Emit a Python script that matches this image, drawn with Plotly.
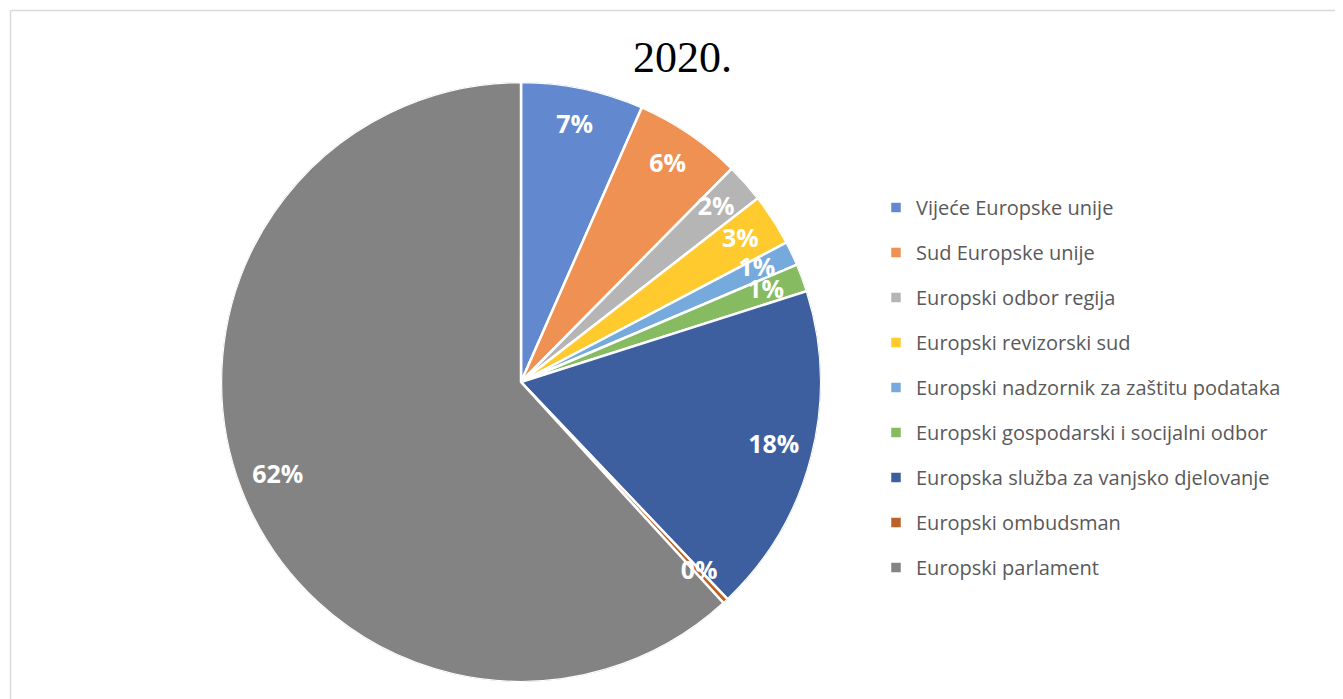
import plotly.graph_objects as go
import numpy as np

labels = [
    "Vijeće Europske unije",
    "Sud Europske unije",
    "Europski odbor regija",
    "Europski revizorski sud",
    "Europski nadzornik za zaštitu podataka",
    "Europski gospodarski i socijalni odbor",
    "Europska služba za vanjsko djelovanje",
    "Europski ombudsman",
    "Europski parlament",
]
values = [6.6, 5.8, 2.1, 2.8, 1.3, 1.5, 17.8, 0.3, 61.8]
pct_labels = ["7%", "6%", "2%", "3%", "1%", "1%", "18%", "0%", "62%"]
colors = ["#6288CF", "#EF9152", "#B5B5B5", "#FFCA2E", "#77AADC",
          "#86BB62", "#3D5F9F", "#BA6227", "#838383"]
title_text = "2020."

W, H = 1343, 699
OFF = 8  # page body margin
vals = np.array(values, dtype=float)
deg = vals / vals.sum() * 360.0
ends = np.cumsum(deg)
mids = ends - deg / 2


def px(x):
    return (x - OFF) / W


def py(y):
    return 1 - (y - OFF) / H


fig = go.Figure()
for i, lab in enumerate(labels):
    fig.add_trace(go.Barpolar(
        r=[1], theta=[mids[i]], width=[deg[i]], name=lab,
        legendgroup=lab,
        marker=dict(color=colors[i], line=dict(color="white", width=2.5)),
        hoverinfo="name",
    ))

fig.add_trace(go.Scatterpolar(
    r=[0.87] * len(pct_labels), theta=list(mids), mode="text",
    text=pct_labels, showlegend=False,
    textfont=dict(family="Open Sans", size=25, color="white", weight="bold"),
    textposition="middle center", hoverinfo="skip",
))

fig.update_layout(
    width=W, height=H,
    margin=dict(l=0, r=0, t=0, b=0),
    paper_bgcolor="white", plot_bgcolor="white",
    polar=dict(
        domain=dict(x=[px(221), px(821)], y=[py(682), py(82)]),
        bgcolor="rgba(0,0,0,0)",
        barmode="overlay",
        radialaxis=dict(visible=False, range=[0, 1]),
        angularaxis=dict(visible=False, rotation=90, direction="clockwise"),
    ),
    title=dict(text=title_text, x=px(682.5), xanchor="center",
               y=py(57), yanchor="middle", yref="container",
               font=dict(family="Liberation Serif", size=44, color="black")),
    legend=dict(
        x=px(876), xanchor="left", y=py(188), yanchor="top",
        font=dict(family="Open Sans", size=20, color="#595959"),
        tracegroupgap=16, traceorder="grouped",
        bgcolor="rgba(0,0,0,0)",
    ),
    showlegend=True,
    shapes=[
        dict(type="line", xref="paper", yref="paper",
             x0=px(10.5), x1=px(10.5), y0=-0.1, y1=py(10.5),
             line=dict(color="#D9D9D9", width=1.5)),
        dict(type="line", xref="paper", yref="paper",
             x0=px(10.5), x1=1.1, y0=py(10.5), y1=py(10.5),
             line=dict(color="#D9D9D9", width=1.5)),
    ],
)

fig.write_html("out.html")
